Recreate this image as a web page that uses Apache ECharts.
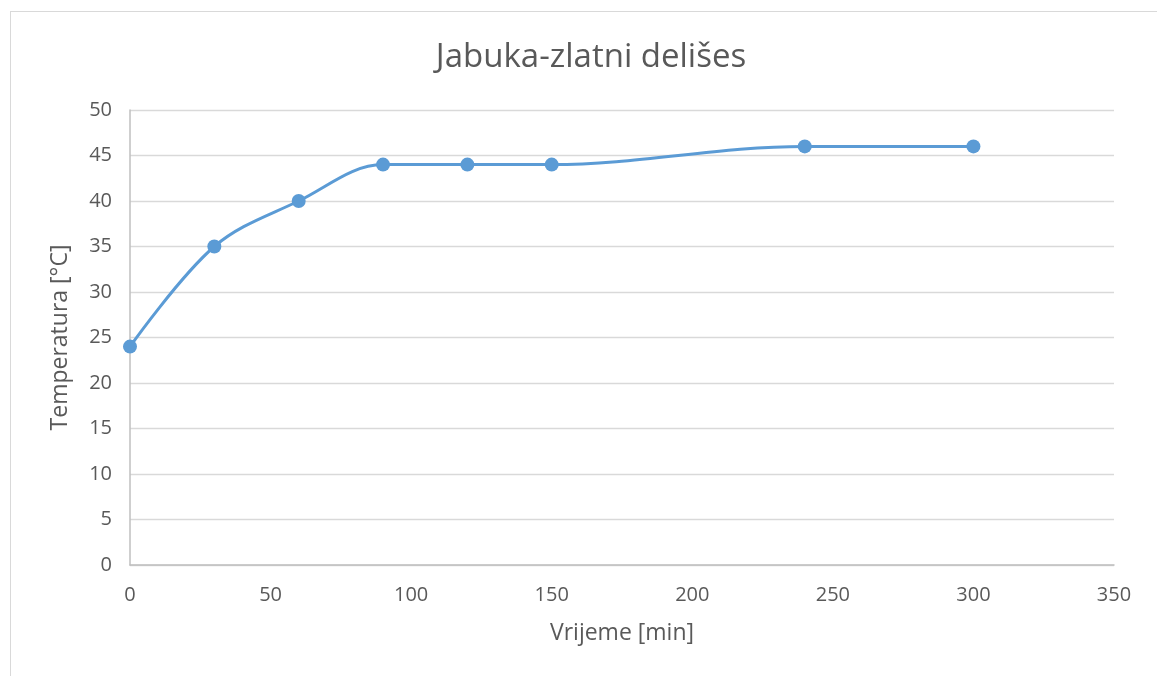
<!DOCTYPE html>
<html>
<head>
<meta charset="utf-8">
<script src="https://cdn.jsdelivr.net/npm/echarts@6/dist/echarts.min.js"></script>
<style>
    html, body { margin: 0; padding: 0; background: #fff; }
    #frame {
        position: absolute;
        left: 10px;
        top: 11px;
        width: 1160px;
        height: 680px;
        border: 1px solid #d9d9d9;
        box-sizing: border-box;
    }
    #chart_main { width: 1157px; height: 676px; }
</style>
</head>
<body>
<div id="frame"></div>
<div id="chart_main"></div>
<script>
// data
var times = [0, 30, 60, 90, 120, 150, 240, 300];
var temps = [24, 35, 40, 44, 44, 44, 46, 46];

var points = times.map(function (t, i) { return [t, temps[i]]; });

var txt = '#595959';
var myChart = echarts.init(document.getElementById('chart_main'));
var option = {
    backgroundColor: 'transparent',
    animation: false,
    title: {
        text: 'Jabuka-zlatni delišes',
        left: 586,
        top: 36,
        textAlign: 'center',
        textStyle: {
            fontFamily: 'Open Sans',
            fontSize: 33,
            fontWeight: 'normal',
            color: txt
        }
    },
    grid: {
        left: 130,
        right: 43,
        top: 110,
        bottom: 111
    },
    xAxis: {
        type: 'value',
        min: 0,
        max: 350,
        interval: 50,
        name: 'Vrijeme [min]',
        nameLocation: 'middle',
        nameGap: 57,
        nameTextStyle: { fontFamily: 'Open Sans', fontSize: 23, color: txt },
        axisLine: { show: true, lineStyle: { color: '#bfbfbf', width: 1.5 } },
        axisTick: { show: false },
        splitLine: { show: false },
        axisLabel: { fontFamily: 'Open Sans', fontSize: 20, color: txt, margin: 20 }
    },
    yAxis: {
        type: 'value',
        min: 0,
        max: 50,
        interval: 5,
        name: 'Temperatura [°C]',
        nameLocation: 'middle',
        nameGap: 58,
        nameTextStyle: { fontFamily: 'Open Sans', fontSize: 23, color: txt },
        axisLine: { show: true, onZero: false, lineStyle: { color: '#bfbfbf', width: 1.5 } },
        axisTick: { show: false },
        splitLine: { show: true, lineStyle: { color: '#d9d9d9', width: 1.3 } },
        axisLabel: { fontFamily: 'Open Sans', fontSize: 20, color: txt, margin: 18 }
    },
    series: [
        {
            type: 'line',
            data: points,
            smooth: 0.35,
            symbol: 'circle',
            symbolSize: 14,
            itemStyle: { color: '#5b9bd5' },
            lineStyle: { color: '#5b9bd5', width: 3 }
        }
    ]
};
myChart.setOption(option);
</script>
</body>
</html>
